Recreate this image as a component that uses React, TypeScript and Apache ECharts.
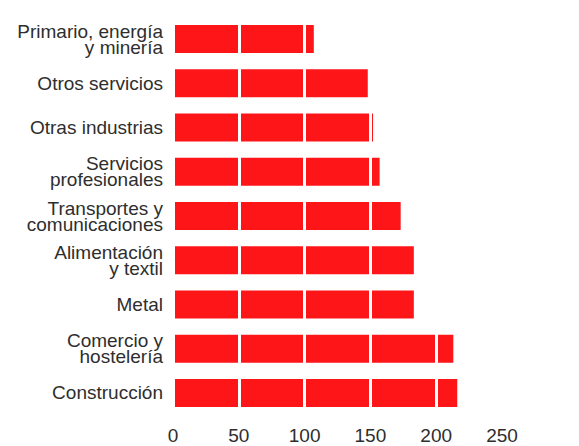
import React, { useEffect, useRef } from "react";
import * as echarts from "echarts";

const categories = [
  "Primario, energía\ny minería",
  "Otros servicios",
  "Otras industrias",
  "Servicios\nprofesionales",
  "Transportes y\ncomunicaciones",
  "Alimentación\ny textil",
  "Metal",
  "Comercio y\nhostelería",
  "Construcción",
];

const values = [107, 148, 152, 157, 173, 183, 183, 213, 216];

const xTicks = [0, 50, 100, 150, 200, 250];

export default function App() {
  const ref = useRef<HTMLDivElement>(null);
  useEffect(() => {
    if (!ref.current) return;
    const chart = echarts.init(ref.current, null, { renderer: "svg" });
    chart.setOption({
      animation: false,
      backgroundColor: "#ffffff",
      grid: { left: 173, right: 77, top: 17, bottom: 31, containLabel: false },
      xAxis: {
        type: "value",
        min: xTicks[0],
        max: xTicks[xTicks.length - 1],
        interval: 50,
        z: 5,
        axisLine: { show: false },
        axisTick: { show: false },
        splitLine: { show: true, lineStyle: { color: "#ffffff", width: 3 } },
        axisLabel: {
          margin: 11,
          color: "#2e2e2e",
          fontSize: 19,
          fontFamily: "Liberation Sans, Arial, sans-serif",
        },
      },
      yAxis: {
        type: "category",
        data: categories,
        inverse: true,
        axisLine: { show: false },
        axisTick: { show: false },
        splitLine: { show: false },
        axisLabel: {
          margin: 10,
          color: "#2e2e2e",
          fontSize: 19,
          lineHeight: 16,
          align: "right",
          padding: [0, 0, 6, 0],
          fontFamily: "Liberation Sans, Arial, sans-serif",
        },
      },
      series: [
        {
          type: "bar",
          data: values,
          barWidth: 28,
          itemStyle: { color: "#fd1518" },
        },
      ],
    });
    return () => chart.dispose();
  }, []);
  return <div ref={ref} style={{ width: 579, height: 446, position: "absolute", left: 0, top: 0 }} />;
}
